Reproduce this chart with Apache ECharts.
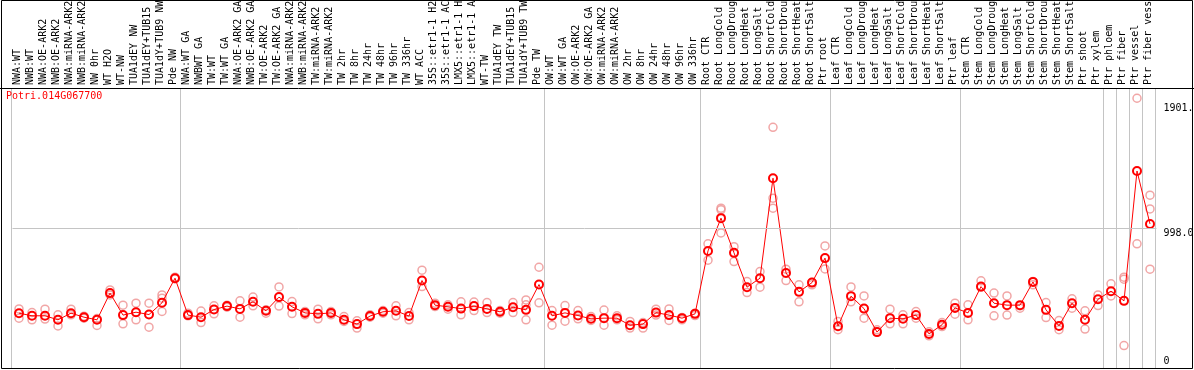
<!DOCTYPE html>
<html><head><meta charset="utf-8">
<script src="https://cdn.jsdelivr.net/npm/echarts@6/dist/echarts.min.js"></script>
<style>html,body{margin:0;padding:0;background:#fff}#c{width:1194px;height:370px}</style>
</head><body><div id="c"></div>
<script>
const geneId = 'Potri.014G067700';
const categories = [
  'NWA:WT','NWB:WT','NWA:OE-ARK2','NWB:OE-ARK2','NWA:miRNA-ARK2','NWB:miRNA-ARK2','NW 0hr','WT H2O','WT-NW',
  'TUA1dEY NW','TUA1dEY+TUB15 NW','TUA1dY+TUB9 NW','Pde NW',
  'NWA:WT GA','NWBWT GA','TW:WT','TW:WT GA','NWA:OE-ARK2 GA','NWB:OE-ARK2 GA','TW:OE-ARK2','TW:OE-ARK2 GA',
  'NWA:miRNA-ARK2 GA','NWB:miRNA-ARK2 GA','TW:miRNA-ARK2','TW:miRNA-ARK2 GA','TW 2hr','TW 8hr','TW 24hr','TW 48hr',
  'TW 96hr','TW 336hr','WT ACC','35S::etr1-1 H2O','35S::etr1-1 ACC','LMX5::etr1-1 H2O','LMX5::etr1-1 ACC','WT-TW',
  'TUA1dEY TW','TUA1dEY+TUB15 TW','TUA1dY+TUB9 TW','Pde TW',
  'OW:WT','OW:WT GA','OW:OE-ARK2','OW:OE-ARK2 GA','OW:miRNA-ARK2','OW:miRNA-ARK2 GA','OW 2hr','OW 8hr','OW 24hr',
  'OW 48hr','OW 96hr','OW 336hr',
  'Root CTR','Root LongCold','Root LongDrought','Root LongHeat','Root LongSalt','Root ShortCold','Root ShortDrought',
  'Root ShortHeat','Root ShortSalt','Ptr root',
  'Leaf CTR','Leaf LongCold','Leaf LongDrought','Leaf LongHeat','Leaf LongSalt','Leaf ShortCold','Leaf ShortDrought',
  'Leaf ShortHeat','Leaf ShortSalt','Ptr leaf',
  'Stem CTR','Stem LongCold','Stem LongDrought','Stem LongHeat','Stem LongSalt','Stem ShortCold','Stem ShortDrought',
  'Stem ShortHeat','Stem ShortSalt','Ptr shoot','Ptr xylem',
  'Ptr phloem','Ptr fiber','Ptr vessel','Ptr fiber vessel'
];
const meanValues = [
  382,363,363,334,382,353,334,527,368,389,372,457,635,
  368,353,408,433,
  413,464,399,498,428,384,377,384,334,303,361,392,399,361,618,440,428,415,
  433,413,392,425,406,589,363,384,365,341,346,346,295,303,386,368,346,377,
  832,1069,818,570,635,1358,673,536,603,780,288,505,415,245,346,341,368,232,
  298,420,384,574,454,440,440,608,406,290,454,334,483,541,471,1410,1027
];
const rep1 = [
  413,386,411,370,411,360,343,550,440,454,454,514,642,
  382,397,435,440,
  471,498,406,572,466,394,411,394,358,327,370,401,435,386,693,454,442,464,
  462,459,401,459,478,714,401,437,401,358,404,363,322,314,411,413,350,382,
  883,1141,863,611,683,1726,700,587,603,868,322,572,507,262,411,370,394,247,
  314,454,442,616,527,507,418,587,459,329,486,399,514,594,642,1936,1235
];
const rep2 = [
  346,334,339,290,370,346,293,514,305,334,281,394,630,
  363,314,377,425,
  353,435,382,433,379,370,341,370,322,274,353,382,363,334,574,430,411,370,
  401,386,382,386,334,457,295,324,341,329,295,334,274,274,368,329,334,365,
  765,962,755,531,570,1141,618,464,587,702,262,464,346,245,305,305,346,218,
  285,375,334,570,363,368,435,611,350,262,418,267,437,507,148,883,700
];
const rep3 = [
  null,null,null,null,null,null,null,null,null,null,null,490,null,
  null,null,null,null,
  null,null,null,null,null,null,null,null,null,null,null,null,null,null,null,null,null,null,
  null,null,null,null,442,null,null,null,null,null,null,null,null,null,null,null,null,null,
  null,1129,null,null,null,1213,null,null,null,null,null,null,null,null,null,null,null,null,
  null,null,null,null,null,null,null,null,null,null,null,null,null,null,628,null,1136
];
const groupStarts = [0, 13, 41, 53, 63, 73, 84, 85, 86, 87];
const yTickLabels = [998, 1901];
const yZeroLabel = [0];
const yMax = 2010;
const refLine = 998;

const font = 'DejaVu Sans Mono';
const repData = [];
[rep1, rep2, rep3].forEach(arr => arr.forEach((v, i) => { if (v != null) repData.push([i, v]); }));
const isGroupStart = (i) => groupStarts.indexOf(i) >= 0;

const chart = echarts.init(document.getElementById('c'), null, {renderer: 'canvas'});
chart.setOption({
  animation: false,
  title: {text: geneId, left: 6, top: 91, padding: 0,
    textStyle: {color: '#ff0000', fontSize: 10, fontWeight: 'normal', fontFamily: font}},
  grid: [
    {left: 11, right: 39, top: 88, bottom: 2, outerBoundsMode: 'none', containLabel: false},
    {left: 12.5, right: 37.5, top: 88, bottom: 4, outerBoundsMode: 'none', containLabel: false}
  ],
  xAxis: [
    {gridIndex: 0, type: 'category', data: categories, position: 'top',
      axisLine: {show: false},
      axisTick: {show: true, inside: false, length: 88, interval: isGroupStart,
        lineStyle: {color: '#c4c4c4', width: 1}},
      axisLabel: {interval: 0, rotate: 90, margin: 3, fontFamily: font, fontSize: 10, color: '#000'},
      splitLine: {show: true, interval: isGroupStart, lineStyle: {color: '#c4c4c4', width: 1}}},
    {gridIndex: 1, type: 'category', data: categories, show: false}
  ],
  yAxis: [
    {gridIndex: 0, type: 'value', show: false, min: 0, max: 1},
    {gridIndex: 1, type: 'value', position: 'right', min: 0, max: yMax,
      axisLine: {show: false}, axisTick: {show: false}, splitLine: {show: false},
      axisLabel: {customValues: yTickLabels, formatter: v => v.toFixed(1), verticalAlign: 'top',
        margin: 7, fontFamily: font, fontSize: 10, color: '#000'}},
    {gridIndex: 1, type: 'value', position: 'right', min: 0, max: yMax,
      axisLine: {show: false}, axisTick: {show: false}, splitLine: {show: false},
      axisLabel: {customValues: yZeroLabel, formatter: v => String(v), verticalAlign: 'bottom',
        margin: 7, fontFamily: font, fontSize: 10, color: '#000'}}
  ],
  series: [
    {type: 'scatter', xAxisIndex: 1, yAxisIndex: 1, data: repData, symbol: 'circle', symbolSize: 8,
      itemStyle: {color: 'rgba(0,0,0,0)', borderColor: '#ee9090', borderWidth: 1.5}, z: 2,
      markLine: {silent: true, symbol: 'none', label: {show: false},
        lineStyle: {color: '#c4c4c4', type: 'solid', width: 1}, data: [{yAxis: refLine}]}},
    {type: 'line', xAxisIndex: 1, yAxisIndex: 1, data: meanValues, symbol: 'circle', symbolSize: 8,
      showAllSymbol: true, lineStyle: {color: '#ff0000', width: 1},
      itemStyle: {color: 'rgba(0,0,0,0)', borderColor: '#ff0000', borderWidth: 2}, z: 3}
  ],
  graphic: [
    {type: 'rect', silent: true, z: 100, shape: {x: 1.5, y: 0.5, width: 1191, height: 368},
      style: {fill: null, stroke: '#000', lineWidth: 1}},
    {type: 'line', silent: true, z: 100, shape: {x1: 0, y1: 88.5, x2: 1194, y2: 88.5},
      style: {stroke: '#000', lineWidth: 1}}
  ]
});
</script></body></html>
